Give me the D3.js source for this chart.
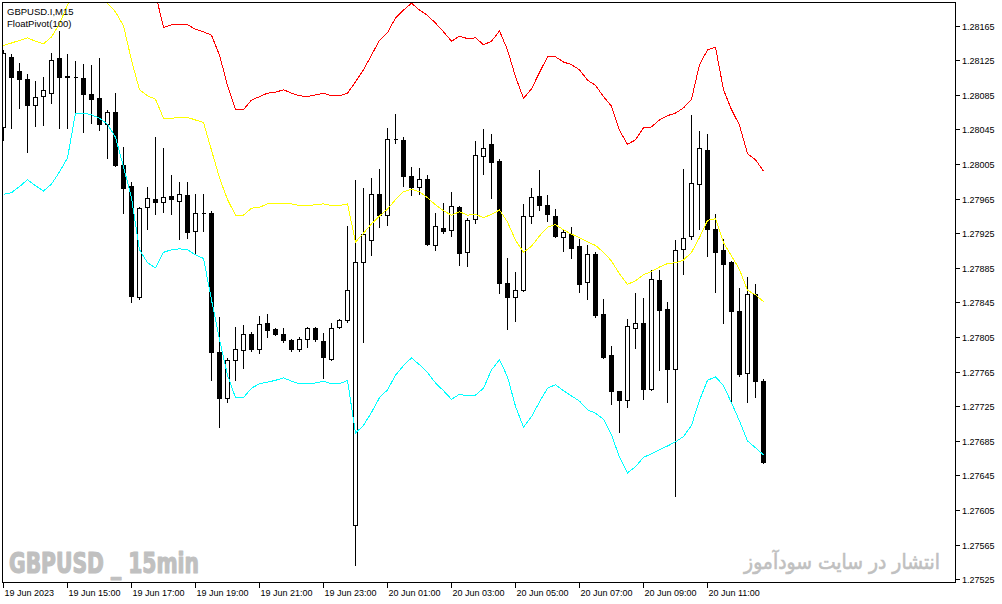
<!DOCTYPE html>
<html lang="en">
<head>
<meta charset="UTF-8">
<title>GBPUSD.I,M15 FloatPivot(100)</title>
<script src="https://d3js.org/d3.v7.min.js"></script>
<style>
    body { margin: 0; background: #fff; }
    svg { display: block; }
    .axis-text { font-family: "Liberation Sans", Arial, sans-serif; font-size: 9px; fill: #000; }
    .info-text { font-family: "Liberation Sans", Arial, sans-serif; font-size: 9.5px; fill: #000; }
</style>
</head>
<body>
<svg id="chart" width="1002" height="604"></svg>
<script>
    // 15 minute bars, 19 Jun 2023 13:00 .. 20 Jun 2023 12:45
    const open = [
        1.28048, 1.28129, 1.28113, 1.28103, 1.28073, 1.28084, 1.28087, 1.28128, 1.28107, 1.28106,
        1.28105, 1.28086, 1.28081, 1.28051, 1.28065, 1.28004, 1.27980, 1.27851, 1.27955, 1.27965,
        1.27961, 1.27968, 1.27962, 1.27969, 1.27928, 1.27948, 1.27948, 1.27788, 1.27735, 1.27779,
        1.27790, 1.27809, 1.27791, 1.27821, 1.27814, 1.27809, 1.27802, 1.27791, 1.27803, 1.27816,
        1.27801, 1.27780, 1.27817, 1.27825, 1.27588, 1.27892, 1.27917, 1.27970, 1.27946, 1.28034,
        1.28033, 1.27991, 1.27979, 1.27988, 1.27911, 1.27931, 1.27929, 1.27955, 1.27903, 1.27942,
        1.28014, 1.28028, 1.28009, 1.27868, 1.27851, 1.27859, 1.27945, 1.27968, 1.27958, 1.27945,
        1.27921, 1.27924, 1.27910, 1.27869, 1.27901, 1.27832, 1.27784, 1.27743, 1.27732, 1.27816,
        1.27821, 1.27745, 1.27871, 1.27837, 1.27768, 1.27907, 1.27922, 1.27982, 1.28021, 1.27930,
        1.27906, 1.27892, 1.27835, 1.27764, 1.27855, 1.27754
    ];
    const high = [
        1.28137, 1.28132, 1.28122, 1.28109, 1.28101, 1.28106, 1.28133, 1.28159, 1.28132, 1.28124,
        1.28121, 1.28120, 1.28128, 1.28068, 1.28087, 1.28025, 1.27984, 1.27955, 1.27979, 1.28036,
        1.28024, 1.27992, 1.27984, 1.27984, 1.27970, 1.27970, 1.27951, 1.27828, 1.27781, 1.27817,
        1.27819, 1.27811, 1.27829, 1.27832, 1.27816, 1.27816, 1.27803, 1.27805, 1.27817, 1.27817,
        1.27810, 1.27821, 1.27826, 1.27933, 1.27987, 1.27977, 1.27989, 1.27999, 1.28047, 1.28063,
        1.28036, 1.28002, 1.28000, 1.27992, 1.27948, 1.27960, 1.27973, 1.27956, 1.27943, 1.28032,
        1.28046, 1.28040, 1.28011, 1.27896, 1.27880, 1.27959, 1.27977, 1.27998, 1.27969, 1.27953,
        1.27930, 1.27932, 1.27918, 1.27911, 1.27903, 1.27849, 1.27795, 1.27743, 1.27826, 1.27856,
        1.27850, 1.27883, 1.27883, 1.27846, 1.27917, 1.27999, 1.28062, 1.28043, 1.28040, 1.27947,
        1.27918, 1.27893, 1.27862, 1.27874, 1.27866, 1.27757
    ];
    const low = [
        1.28033, 1.28047, 1.28070, 1.28019, 1.28049, 1.28050, 1.28076, 1.28047, 1.28047, 1.28064,
        1.28042, 1.28053, 1.28044, 1.28012, 1.28003, 1.27948, 1.27846, 1.27849, 1.27930, 1.27947,
        1.27950, 1.27947, 1.27918, 1.27920, 1.27902, 1.27928, 1.27755, 1.27701, 1.27730, 1.27755,
        1.27769, 1.27789, 1.27787, 1.27805, 1.27807, 1.27799, 1.27789, 1.27789, 1.27794, 1.27801,
        1.27758, 1.27779, 1.27816, 1.27822, 1.27542, 1.27799, 1.27900, 1.27932, 1.27935, 1.28029,
        1.27980, 1.27969, 1.27970, 1.27912, 1.27906, 1.27925, 1.27922, 1.27888, 1.27887, 1.27937,
        1.27994, 1.27966, 1.27856, 1.27814, 1.27824, 1.27858, 1.27937, 1.27952, 1.27939, 1.27921,
        1.27905, 1.27896, 1.27857, 1.27849, 1.27828, 1.27781, 1.27728, 1.27695, 1.27724, 1.27792,
        1.27733, 1.27744, 1.27767, 1.27730, 1.27621, 1.27878, 1.27918, 1.27930, 1.27899, 1.27857,
        1.27821, 1.27729, 1.27760, 1.27730, 1.27736, 1.27660
    ];
    const close = [
        1.28133, 1.28106, 1.28103, 1.28073, 1.28083, 1.28091, 1.28125, 1.28106, 1.28106, 1.28106,
        1.28086, 1.28080, 1.28051, 1.28065, 1.28004, 1.27977, 1.27853, 1.27954, 1.27966, 1.27961,
        1.27967, 1.27965, 1.27970, 1.27927, 1.27948, 1.27948, 1.27788, 1.27735, 1.27779, 1.27791,
        1.27809, 1.27791, 1.27820, 1.27813, 1.27809, 1.27802, 1.27791, 1.27803, 1.27816, 1.27803,
        1.27782, 1.27816, 1.27825, 1.27859, 1.27892, 1.27924, 1.27970, 1.27946, 1.28034, 1.28034,
        1.27991, 1.27979, 1.27988, 1.27913, 1.27933, 1.27928, 1.27957, 1.27902, 1.27940, 1.28016,
        1.28024, 1.28007, 1.27868, 1.27851, 1.27859, 1.27945, 1.27967, 1.27958, 1.27947, 1.27922,
        1.27927, 1.27908, 1.27866, 1.27901, 1.27831, 1.27782, 1.27743, 1.27732, 1.27818, 1.27821,
        1.27745, 1.27872, 1.27836, 1.27768, 1.27906, 1.27920, 1.27983, 1.28024, 1.27930, 1.27903,
        1.27890, 1.27835, 1.27762, 1.27855, 1.27754, 1.27661
    ];

    // FloatPivot(100) lines, null where the value is not shown
    const upper = [
        null, null, null, null, null, null, null, null, null, null,
        null, null, null, null, null, null, null, null, null, 1.28202,
        1.28163, 1.28166, 1.28166, 1.28166, 1.28161, 1.28158, 1.28154, 1.28131, 1.28096, 1.28068,
        1.28068, 1.28079, 1.28083, 1.28087, 1.28088, 1.28091, 1.28087, 1.28084, 1.28083, 1.28085,
        1.28087, 1.28084, 1.28084, 1.28087, 1.28100, 1.28114, 1.28131, 1.28148, 1.28157, 1.28174,
        1.28183, 1.28191, 1.28183, 1.28177, 1.28168, 1.28158, 1.28147, 1.28153, 1.28150, 1.28151,
        1.28143, 1.28147, 1.28159, 1.28137, 1.28106, 1.28081, 1.28092, 1.28111, 1.28129, 1.28129,
        1.28123, 1.28120, 1.28114, 1.28102, 1.28096, 1.28083, 1.28072, 1.28044, 1.28028, 1.28033,
        1.28047, 1.28048, 1.28056, 1.28061, 1.28064, 1.28070, 1.28080, 1.28120, 1.28137, 1.28140,
        1.28091, 1.28068, 1.28050, 1.28017, 1.28010, 1.27997
    ];
    const middle = [
        1.28142, 1.28145, 1.28148, 1.28151, 1.28147, 1.28144, 1.28152, 1.28167, 1.28189, 1.28212,
        1.28224, 1.28224, 1.28212, 1.28191, 1.28181, 1.28165, 1.28125, 1.28091, 1.28084, 1.28080,
        1.28058, 1.28058, 1.28059, 1.28059, 1.28056, 1.28053, 1.28021, 1.27989, 1.27964, 1.27946,
        1.27946, 1.27954, 1.27955, 1.27959, 1.27959, 1.27959, 1.27959, 1.27957, 1.27957, 1.27958,
        1.27959, 1.27957, 1.27957, 1.27959, 1.27915, 1.27925, 1.27936, 1.27945, 1.27953, 1.27964,
        1.27973, 1.27976, 1.27973, 1.27966, 1.27958, 1.27951, 1.27946, 1.27950, 1.27946, 1.27947,
        1.27943, 1.27947, 1.27952, 1.27938, 1.27917, 1.27903, 1.27910, 1.27922, 1.27932, 1.27935,
        1.27929, 1.27924, 1.27920, 1.27915, 1.27911, 1.27903, 1.27893, 1.27878, 1.27866, 1.27870,
        1.27877, 1.27881, 1.27886, 1.27890, 1.27891, 1.27894, 1.27903, 1.27920, 1.27940, 1.27942,
        1.27914, 1.27899, 1.27883, 1.27859, 1.27854, 1.27846
    ];
    const lower = [
        1.27970, 1.27972, 1.27979, 1.27987, 1.27980, 1.27974, 1.27982, 1.27996, 1.28012, 1.28064,
        1.28064, 1.28062, 1.28058, 1.28051, 1.28036, 1.28002, 1.27966, 1.27906, 1.27891, 1.27885,
        1.27903, 1.27906, 1.27907, 1.27906, 1.27900, 1.27896, 1.27848, 1.27802, 1.27761, 1.27735,
        1.27735, 1.27746, 1.27751, 1.27753, 1.27755, 1.27758, 1.27754, 1.27751, 1.27751, 1.27752,
        1.27754, 1.27751, 1.27751, 1.27755, 1.27694, 1.27703, 1.27718, 1.27735, 1.27744, 1.27761,
        1.27772, 1.27781, 1.27773, 1.27764, 1.27752, 1.27743, 1.27733, 1.27739, 1.27737, 1.27738,
        1.27746, 1.27767, 1.27779, 1.27759, 1.27725, 1.27701, 1.27713, 1.27730, 1.27746, 1.27750,
        1.27743, 1.27737, 1.27731, 1.27721, 1.27717, 1.27710, 1.27692, 1.27666, 1.27648, 1.27655,
        1.27666, 1.27670, 1.27675, 1.27679, 1.27684, 1.27690, 1.27703, 1.27732, 1.27755, 1.27759,
        1.27749, 1.27729, 1.27708, 1.27685, 1.27677, 1.27669
    ];

    const priceTicks = ["1.28165", "1.28125", "1.28085", "1.28045", "1.28005", "1.27965", "1.27925", "1.27885",
        "1.27845", "1.27805", "1.27765", "1.27725", "1.27685", "1.27645", "1.27605", "1.27565", "1.27525"];
    const timeTickBars = [0, 8, 16, 24, 32, 40, 48, 56, 64, 72, 80, 88];
    const timeTickLabels = ["19 Jun 2023", "19 Jun 15:00", "19 Jun 17:00", "19 Jun 19:00", "19 Jun 21:00",
        "19 Jun 23:00", "20 Jun 01:00", "20 Jun 03:00", "20 Jun 05:00", "20 Jun 07:00", "20 Jun 09:00", "20 Jun 11:00"];

    const W = 1002, H = 604;
    const frame = { left: 2, top: 2, right: 955, bottom: 582 };

    const x = d3.scaleLinear().domain([0, 95]).range([3, 763]);
    const y = d3.scaleLinear().domain([1.27525, 1.28165]).range([579.3, 25.7]);

    const px = i => Math.round(x(i)) + 0.5;
    const py = v => Math.round(y(v)) + 0.5;

    const svg = d3.select("#chart");
    svg.append("rect").attr("width", W).attr("height", H).attr("fill", "#fff");

    svg.append("clipPath").attr("id", "plot-clip").append("rect")
        .attr("x", frame.left + 1).attr("y", frame.top + 1)
        .attr("width", frame.right - frame.left - 1)
        .attr("height", frame.bottom - frame.top - 1);

    // watermarks
    function fitText(sel, x0, width) {
        const b = sel.node().getBBox();
        const sx = width / b.width;
        sel.attr("transform", `translate(${x0 - b.x * sx},0) scale(${sx},1)`);
    }
    const wm1 = svg.append("text")
        .attr("x", 0).attr("y", 573)
        .attr("font-family", "'Liberation Sans Narrow', 'DejaVu Sans Condensed', 'Liberation Sans', sans-serif")
        .attr("font-weight", "bold").attr("font-size", 29).attr("fill", "#c0c0c0")
        .attr("stroke", "#c0c0c0").attr("stroke-width", 1.2).attr("stroke-linejoin", "round")
        .text("GBPUSD _ 15min");
    fitText(wm1, 9, 190);

    const wm2 = svg.append("text")
        .attr("x", 0).attr("y", 569)
        .attr("font-family", "'DejaVu Sans', sans-serif")
        .attr("font-size", 21).attr("fill", "#c0c0c0")
        .attr("stroke", "#c0c0c0").attr("stroke-width", 0.6)
        .attr("direction", "rtl")
        .text("انتشار در سایت سودآموز");
    fitText(wm2, 743, 197);

    const plot = svg.append("g").attr("clip-path", "url(#plot-clip)");
    const idx = d3.range(open.length);

    // wicks
    plot.append("g").attr("shape-rendering", "crispEdges")
        .selectAll("line").data(idx).join("line")
        .attr("x1", px).attr("x2", px)
        .attr("y1", i => Math.round(y(high[i])))
        .attr("y2", i => Math.round(y(low[i])) + 1)
        .attr("stroke", "#000");

    // bodies
    plot.append("g").attr("shape-rendering", "crispEdges")
        .selectAll("path").data(idx).join("path")
        .attr("d", i => {
            const t = py(Math.max(open[i], close[i]));
            const b = py(Math.min(open[i], close[i]));
            const l = px(i) - 2;
            return `M${l},${t}H${l + 4}V${b}H${l}Z`;
        })
        .attr("fill", i => close[i] < open[i] ? "#000" : "#fff")
        .attr("stroke", "#000");

    // indicator lines
    const line = d3.line()
        .defined(d => d != null)
        .x((d, i) => x(i) + 0.5)
        .y(d => y(d));
    [[upper, "#ff0000"], [middle, "#ffff00"], [lower, "#00ffff"]].forEach(([vals, color]) => {
        plot.append("path")
            .attr("d", line(vals))
            .attr("fill", "none")
            .attr("stroke", color)
            .attr("stroke-width", 1)
            .attr("shape-rendering", "crispEdges");
    });

    // frame
    svg.append("rect")
        .attr("x", frame.left + 0.5).attr("y", frame.top + 0.5)
        .attr("width", frame.right - frame.left).attr("height", frame.bottom - frame.top)
        .attr("fill", "none").attr("stroke", "#000")
        .attr("shape-rendering", "crispEdges");

    // price axis
    const pAxis = svg.append("g").attr("shape-rendering", "crispEdges");
    priceTicks.forEach(t => {
        const yy = Math.round(y(+t)) + 0.5;
        pAxis.append("line")
            .attr("x1", frame.right + 1).attr("x2", frame.right + 5)
            .attr("y1", yy).attr("y2", yy).attr("stroke", "#000");
        pAxis.append("text").attr("class", "axis-text")
            .attr("x", frame.right + 7).attr("y", yy + 3.5)
            .text(t);
    });

    // time axis
    const tAxis = svg.append("g").attr("shape-rendering", "crispEdges");
    timeTickBars.forEach((b, j) => {
        const xx = px(b);
        tAxis.append("line")
            .attr("x1", xx).attr("x2", xx)
            .attr("y1", frame.bottom + 1).attr("y2", frame.bottom + 6)
            .attr("stroke", "#000");
        tAxis.append("text").attr("class", "axis-text")
            .attr("x", xx + 1).attr("y", 596)
            .text(timeTickLabels[j]);
    });

    // chart info
    svg.append("text").attr("class", "info-text").attr("x", 7).attr("y", 15).text("GBPUSD.I,M15");
    svg.append("text").attr("class", "info-text").attr("x", 7).attr("y", 27).text("FloatPivot(100)");
</script>
</body>
</html>
